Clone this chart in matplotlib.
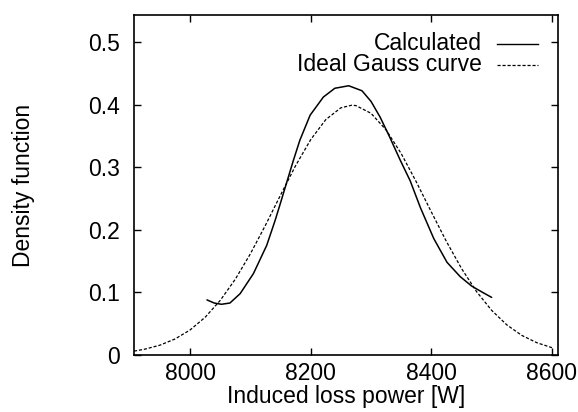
import matplotlib
matplotlib.use("Agg")
import matplotlib.pyplot as plt

plt.rcParams['font.family'] = ['Liberation Sans', 'DejaVu Sans']

# Calculated density
calc_x = [8028, 8040, 8052, 8066, 8083, 8105, 8127, 8141, 8149, 8160, 8171,
          8182, 8199, 8221, 8240, 8263, 8285, 8300, 8315, 8330, 8348, 8365,
          8382, 8404, 8426, 8448, 8467, 8485, 8500]
calc_y = [0.088, 0.083, 0.081, 0.083, 0.098, 0.130, 0.175, 0.215, 0.240, 0.275, 0.310,
          0.343, 0.383, 0.412, 0.426, 0.430, 0.422, 0.405, 0.380, 0.350, 0.312, 0.278,
          0.235, 0.186, 0.148, 0.125, 0.110, 0.100, 0.092]

# Ideal Gauss curve
gauss_x = [7907, 7925, 7950, 7975, 8000, 8025, 8050, 8075, 8100, 8125, 8150,
           8175, 8200, 8225, 8250, 8268, 8275, 8300, 8325, 8350, 8375, 8400,
           8425, 8450, 8475, 8500, 8525, 8550, 8575, 8600]
gauss_y = [0.0062, 0.0093, 0.0157, 0.0256, 0.0400, 0.0603, 0.0872, 0.1211, 0.1617, 0.2073, 0.2555,
           0.3025, 0.3440, 0.3760, 0.3948, 0.3989, 0.3983, 0.3860, 0.3595, 0.3217, 0.2766, 0.2284,
           0.1813, 0.1382, 0.1012, 0.0713, 0.0482, 0.0313, 0.0196, 0.0117]

x_ticks = [8000, 8200, 8400, 8600]
y_ticks = [0, 0.1, 0.2, 0.3, 0.4, 0.5]
y_tick_labels = ['0', '0.1', '0.2', '0.3', '0.4', '0.5']

FS = 16.5

fig = plt.figure(figsize=(5.78, 4.12), dpi=100)
ax = fig.add_axes([134 / 578, 1 - 355 / 412, 424 / 578, 340 / 412])

ax.plot(calc_x, calc_y, color='black', lw=1.1, solid_capstyle='round')
ax.plot(gauss_x, gauss_y, color='black', lw=0.9, linestyle=(0, (2.5, 1.5)))

ax.set_xlim(7907, 8610)
ax.set_ylim(0, 0.543)
ax.set_xticks(x_ticks)
ax.set_xticklabels([str(t) for t in x_ticks])
ax.set_yticks(y_ticks)
ax.set_yticklabels(y_tick_labels)

ax.tick_params(direction='in', length=5, width=1.0, labelsize=FS,
               top=True, right=True, pad=5)
ax.tick_params(axis='y', pad=10)
for s in ax.spines.values():
    s.set_linewidth(1.2)

ax.set_xlabel('Induced loss power [W]', fontsize=FS, labelpad=0)
ax.set_ylabel('Density function', fontsize=FS, labelpad=38)

# gnuplot-style key: right-aligned text followed by line sample
ax.text(0.821, 0.915, 'Calculated', transform=ax.transAxes, ha='right', va='center', fontsize=FS)
ax.plot([0.856, 0.953], [0.915, 0.915], transform=ax.transAxes, color='black', lw=1.0)
ax.text(0.821, 0.853, 'Ideal Gauss curve', transform=ax.transAxes, ha='right', va='center', fontsize=FS)
ax.plot([0.856, 0.953], [0.853, 0.853], transform=ax.transAxes, color='black', lw=0.9,
        linestyle=(0, (2.5, 1.5)))

fig.savefig('out.png', dpi=100)
